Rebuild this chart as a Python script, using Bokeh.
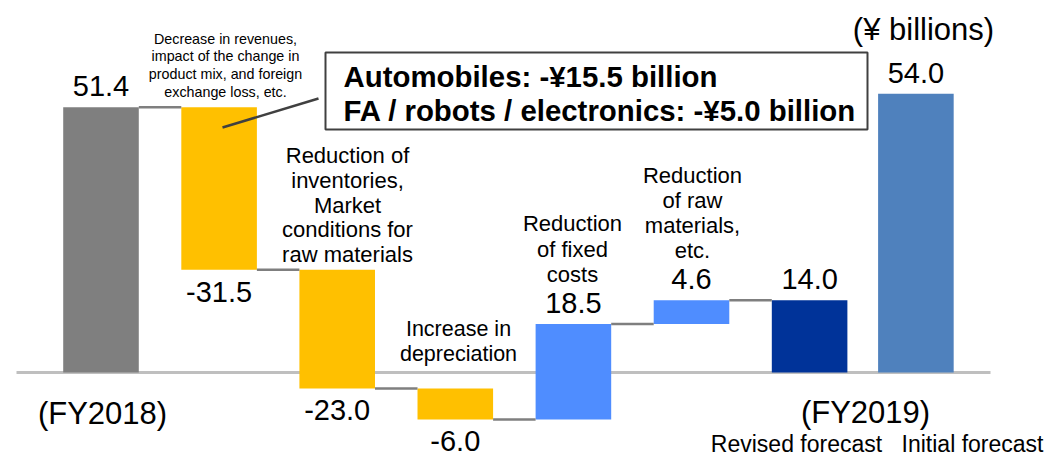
from bokeh.plotting import figure
from bokeh.models import Range1d
from bokeh.core.properties import value
from bokeh.embed import file_html
from bokeh.resources import INLINE

# ---------------- data ----------------
steps = ["FY2018", "Decrease in revenues", "Inventories / raw materials",
         "Depreciation", "Fixed costs", "Raw materials", "FY2019 revised", "FY2019 initial"]
values = [51.4, -31.5, -23.0, -6.0, 18.5, 4.6, 14.0, 54.0]
kinds = ["total", "delta", "delta", "delta", "delta", "delta", "total", "total"]
connect_after = [True, True, True, True, True, True, False, False]

cat_notes = [
    "Reduction of\ninventories,\nMarket\nconditions for\nraw materials",
    "Increase in\ndepreciation",
    "Reduction\nof fixed\ncosts",
    "Reduction\nof raw\nmaterials,\netc.",
]
small_note = "Decrease in revenues,\nimpact of the change in\nproduct mix, and foreign\nexchange loss, etc."
callout = "Automobiles: -\u00a515.5 billion\nFA / robots / electronics: -\u00a55.0 billion"
unit_label = "(\u00a5 billions)"
year_labels = ["(FY2018)", "(FY2019)"]
forecast_labels = ["Revised forecast", "Initial forecast"]

# ---------------- layout / style ----------------
bar_pos = [0, 1, 2, 3, 4, 5, 6, 6.9]
bar_colors = ["#7F7F7F", "#FFC000", "#FFC000", "#FFC000", "#4F8DFF", "#4F8DFF", "#003399", "#4F81BD"]
BAR_W = 0.64
W, H = 1047, 455
X0, DX = 100.5, 118.1     # pixel of bar 0 centre, pixels per step
Y0, DY = 372.0, 5.16      # pixel of zero line, pixels per unit
FONT = value("Liberation Sans")


def px_x(px):
    return (px - X0) / DX


def px_y(py):
    return (Y0 - py) / DY


p = figure(width=W, height=H, output_backend="svg", toolbar_location=None,
           x_range=Range1d(px_x(0), px_x(W)), y_range=Range1d(px_y(H), px_y(0)),
           min_border=0, outline_line_color=None)
p.xaxis.visible = False
p.yaxis.visible = False
p.grid.visible = False
p.background_fill_color = "white"
p.border_fill_color = "white"

# waterfall geometry from data
bottoms, tops, levels = [], [], []
run = 0.0
for v, k in zip(values, kinds):
    if k == "total":
        b, t = 0.0, v
        run = v
    else:
        b, t = run, run + v
        run = run + v
    bottoms.append(min(b, t))
    tops.append(max(b, t))
    levels.append(run)

# zero line
p.segment(x0=[px_x(16)], y0=[0], x1=[px_x(990)], y1=[0], line_color="#BFBFBF", line_width=3)

# bars
p.vbar(x=bar_pos, width=BAR_W, bottom=bottoms, top=tops, fill_color=bar_colors, line_color=None)

# connectors
cx0, cx1, cy = [], [], []
for i in range(len(values) - 1):
    if connect_after[i]:
        cx0.append(bar_pos[i] + BAR_W / 2)
        cx1.append(bar_pos[i + 1] - BAR_W / 2)
        cy.append(levels[i])
p.segment(x0=cx0, y0=cy, x1=cx1, y1=cy, line_color="#7F7F7F", line_width=2.5)

# value labels
up_x, up_y, up_t, dn_x, dn_y, dn_t = [], [], [], [], [], []
for i, (v, k) in enumerate(zip(values, kinds)):
    s = "%.1f" % v
    if k == "delta" and v < 0:
        dn_x.append(bar_pos[i]); dn_y.append(bottoms[i]); dn_t.append(s)
    else:
        up_x.append(bar_pos[i]); up_y.append(tops[i]); up_t.append(s)
p.text(x=up_x, y=up_y, text=up_t, text_font=FONT, text_font_size="29px", text_align="center",
       text_baseline="alphabetic", y_offset=-21, text_color="black")
p.text(x=dn_x, y=dn_y, text=dn_t, text_font=FONT, text_font_size="29px", text_align="center",
       text_baseline="alphabetic", y_offset=22, text_color="black")


def add_lines(text, cx, first_cy, spacing, size, align="center", bold=False):
    lines = text.split("\n")
    p.text(x=[px_x(cx)] * len(lines), y=[px_y(first_cy + i * spacing) for i in range(len(lines))],
           text=lines, text_font=FONT, text_font_size=f"{size}px", text_align=align,
           text_baseline="middle", text_color="black",
           text_font_style="bold" if bold else "normal")


# category notes
add_lines(cat_notes[0], 347, 155, 24.8, 22)
add_lines(cat_notes[1], 458, 328, 25, 21.5)
add_lines(cat_notes[2], 572, 223, 25.5, 22)
add_lines(cat_notes[3], 692, 175, 25, 22)
add_lines(small_note, 225, 38, 17.7, 14.3)

# callout box + leader
p.quad(left=[px_x(325)], right=[px_x(867)], top=[px_y(52)], bottom=[px_y(129)],
       fill_color="white", line_color="#404040", line_width=2)
p.segment(x0=[px_x(222)], y0=[px_y(127)], x1=[px_x(318)], y1=[px_y(98)],
          line_color="#404040", line_width=2.5)
add_lines(callout, 343, 76, 34, 29.4, align="left", bold=True)

# unit & axis-like labels
add_lines(unit_label, 923, 29, 0, 31)
add_lines(year_labels[0], 102, 413, 0, 31)
add_lines(year_labels[1], 865, 412, 0, 31)
add_lines(forecast_labels[0], 796, 443, 0, 23)
add_lines(forecast_labels[1], 972, 443, 0, 23)

open("out.html", "w").write(file_html(p, INLINE))
